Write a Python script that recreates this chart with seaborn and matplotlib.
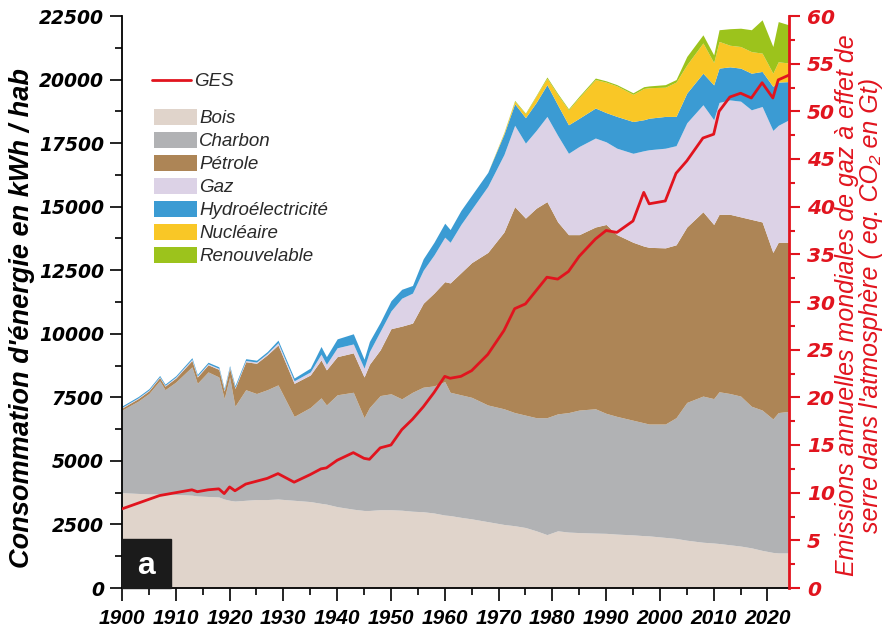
"""Consommation mondiale d'énergie par habitant et émissions de GES (1900-2023)."""

import matplotlib

matplotlib.use("Agg")
import matplotlib.pyplot as plt
import pandas as pd
import seaborn as sns
from matplotlib.patches import Rectangle
from matplotlib.ticker import MultipleLocator

# --- data (kWh / hab, stacked sources) ---
years = [1900, 1903, 1905, 1907, 1908, 1910, 1913, 1914, 1916, 1918, 1919, 1920,
         1921, 1923, 1925, 1927, 1929, 1932, 1935, 1937, 1938, 1940, 1943, 1945,
         1946, 1948, 1950, 1952, 1954, 1956, 1958, 1960, 1961, 1963, 1965, 1968,
         1971, 1973, 1975, 1977, 1979, 1981, 1983, 1985, 1988, 1990, 1992, 1995,
         1997, 1998, 2001, 2003, 2005, 2008, 2010, 2011, 2013, 2015, 2017, 2019,
         2021, 2022, 2024]

bois = [3750, 3720, 3700, 3700, 3700, 3680, 3650, 3620, 3600, 3580, 3500, 3450,
        3420, 3450, 3480, 3480, 3500, 3450, 3400, 3330, 3300, 3200, 3100, 3050,
        3050, 3080, 3080, 3060, 3020, 3000, 2950, 2870, 2850, 2780, 2720, 2610,
        2500, 2450, 2380, 2250, 2100, 2250, 2200, 2180, 2160, 2150, 2120, 2090,
        2060, 2050, 1990, 1950, 1880, 1800, 1770, 1750, 1700, 1650, 1580, 1480,
        1400, 1380, 1380]

charbon = [3250, 3630, 3950, 4450, 4100, 4420, 5050, 4430, 4900, 4720, 3950, 4850,
           3730, 4350, 4170, 4320, 4490, 3300, 3700, 4150, 3900, 4400, 4600, 3650,
           4050, 4490, 4560, 4380, 4680, 4900, 5000, 5250, 4850, 4820, 4780, 4590,
           4550, 4450, 4420, 4450, 4600, 4600, 4700, 4820, 4890, 4720, 4630, 4510,
           4440, 4400, 4460, 4750, 5420, 5750, 5680, 5970, 5950, 5900, 5570, 5520,
           5250, 5520, 5570]

petrole = [80, 100, 110, 130, 140, 160, 250, 250, 280, 300, 300, 350,
           700, 1100, 1190, 1370, 1570, 1300, 1280, 1490, 1380, 1500, 1550, 1600,
           1700, 1800, 2560, 2860, 2720, 3300, 3650, 3930, 4300, 4800, 5300, 6000,
           6950, 8100, 7750, 8240, 8500, 7550, 7000, 6900, 7150, 7430, 7150, 7000,
           6950, 6950, 6930, 6800, 6900, 7250, 6850, 6980, 7050, 7050, 7350, 7400,
           6550, 6700, 6650]

gaz = [30, 30, 30, 30, 30, 40, 50, 40, 40, 40, 40, 40,
       40, 50, 50, 60, 90, 100, 120, 230, 220, 350, 350, 350,
       500, 730, 700, 1100, 1180, 1300, 1500, 1750, 1600, 1900, 2100, 2600,
       3050, 3200, 2950, 3060, 3350, 3400, 3200, 3470, 3500, 3250, 3400, 3500,
       3750, 3840, 3920, 3900, 4100, 4210, 4120, 4400, 4500, 4550, 4310, 4540,
       4800, 4600, 4820]

hydro = [50, 50, 50, 50, 50, 50, 60, 60, 60, 60, 60, 60,
         70, 70, 70, 70, 100, 110, 150, 300, 300, 350, 400, 350,
         400, 350, 400, 350, 300, 450, 500, 550, 500, 550, 550, 550,
         800, 850, 1000, 1100, 1250, 1200, 1120, 1110, 1180, 1150, 1250, 1250,
         1220, 1240, 1250, 1150, 1170, 1240, 1370, 1350, 1300, 1300, 1440, 1380,
         1730, 1700, 1500]

nucleaire = [0, 0, 0, 0, 0, 0, 0, 0, 0, 0, 0, 0,
             0, 0, 0, 0, 0, 0, 0, 0, 0, 0, 0, 0,
             0, 0, 0, 0, 0, 0, 0, 0, 0, 0, 0, 0,
             50, 100, 150, 250, 250, 400, 590, 820, 1120, 1200, 1200, 1070,
             1230, 1200, 1150, 1350, 1110, 1190, 880, 1050, 850, 850, 850, 720,
             520, 800, 730]

renouvelable = [0, 0, 0, 0, 0, 0, 0, 0, 0, 0, 0, 0,
                0, 0, 0, 0, 0, 0, 0, 0, 0, 0, 0, 0,
                0, 0, 0, 0, 0, 0, 0, 0, 0, 0, 0, 0,
                20, 30, 30, 30, 50, 50, 40, 50, 60, 50, 50, 60,
                70, 70, 100, 100, 330, 320, 300, 460, 650, 720, 860, 1310,
                1050, 1580, 1500]

# GES emissions (Gt eq. CO2), right axis
ges = [8.3, 8.9, 9.3, 9.7, 9.8, 10.0, 10.3, 10.1, 10.3, 10.4, 9.9, 10.6,
       10.2, 10.9, 11.2, 11.5, 12.0, 11.1, 11.9, 12.5, 12.6, 13.4, 14.2, 13.6,
       13.5, 14.7, 15.0, 16.6, 17.7, 19.0, 20.5, 22.2, 22.0, 22.2, 22.8, 24.5,
       27.0, 29.3, 29.8, 31.2, 32.6, 32.4, 33.2, 34.8, 36.6, 37.5, 37.3, 38.5,
       41.5, 40.3, 40.6, 43.5, 44.8, 47.2, 47.6, 50.0, 51.5, 51.9, 51.4, 53.0,
       51.4, 53.3, 53.8]

sources = ["Bois", "Charbon", "Pétrole", "Gaz", "Hydroélectricité", "Nucléaire",
           "Renouvelable"]
colors = ["#e0d4cb", "#b1b2b4", "#ad8556", "#dcd2e6", "#3b9bd3", "#f9c726",
          "#9cc31c"]
RED = "#e1141e"

df = pd.DataFrame({"annee": years, "Bois": bois, "Charbon": charbon,
                   "Pétrole": petrole, "Gaz": gaz, "Hydroélectricité": hydro,
                   "Nucléaire": nucleaire, "Renouvelable": renouvelable,
                   "GES": ges})

sns.set_theme(style="ticks")
plt.rcParams["font.family"] = ["Liberation Sans", "DejaVu Sans"]

fig = plt.figure(figsize=(8.94, 6.29), dpi=100)
ax = fig.add_axes([122 / 894, 41 / 629, 667 / 894, 572 / 629])

ax.stackplot(df["annee"], [df[s] for s in sources], colors=colors,
             labels=sources, linewidth=0)
ax.set_xlim(1900, 2024)
ax.set_ylim(0, 22500)
ax.yaxis.set_major_locator(MultipleLocator(2500))
ax.yaxis.set_minor_locator(MultipleLocator(1250))
ax.xaxis.set_major_locator(MultipleLocator(10))
ax.xaxis.set_minor_locator(MultipleLocator(5))
ax.tick_params(which="major", direction="out", length=9, width=1.2,
               color="black", labelcolor="black")
ax.tick_params(which="minor", direction="out", length=5, width=1.2, color="black")
ax.tick_params(axis="y", pad=4)
ax.tick_params(axis="x", pad=6)
for lab in ax.get_yticklabels():
    lab.set_fontproperties({"family": "DejaVu Sans", "weight": "bold",
                            "style": "oblique", "size": 13.5})
for lab in ax.get_xticklabels():
    lab.set_fontproperties({"family": "Liberation Sans", "weight": "bold",
                            "style": "italic", "size": 15})
for side in ["top", "right"]:
    ax.spines[side].set_visible(False)
for side in ["left", "bottom"]:
    ax.spines[side].set_color("black")
    ax.spines[side].set_linewidth(1.3)
ax.grid(False)

# "a" panel tag
ax.add_patch(Rectangle((0, 0), 0.073, 0.086, transform=ax.transAxes,
                       color="#1b1b1b", zorder=5, clip_on=False))
ax.text(0.0365, 0.038, "a", transform=ax.transAxes, color="white",
        fontsize=23, fontweight="bold", ha="center", va="center", zorder=6)

# GES on twin axis
ax2 = ax.twinx()
sns.lineplot(data=df, x="annee", y="GES", ax=ax2, color=RED, linewidth=2,
             label="GES")
ax2.set_ylim(0, 60)
ax2.set_xlim(1900, 2024)
ax2.set_ylabel("")
ax2.set_xlabel("")
ax2.yaxis.set_major_locator(MultipleLocator(5))
ax2.yaxis.set_minor_locator(MultipleLocator(2.5))
ax2.tick_params(which="major", direction="out", length=8, width=1.5, color=RED,
                pad=5)
ax2.tick_params(which="minor", direction="out", length=4, width=1.5, color=RED)
for lab in ax2.get_yticklabels():
    lab.set_fontproperties({"family": "DejaVu Sans", "weight": "bold",
                            "style": "oblique", "size": 14.5})
    lab.set_color(RED)
for side in ["top", "left", "bottom"]:
    ax2.spines[side].set_visible(False)
ax2.spines["right"].set_color(RED)
ax2.spines["right"].set_linewidth(2)

ax.set_xlabel("")
ax.set_ylabel("")

# legends
leg_font = {"family": "Liberation Sans", "style": "italic", "size": 13.5}
leg1 = ax2.legend(loc="upper left", bbox_to_anchor=(0.045, 0.9), frameon=False,
                  prop=leg_font, handlelength=2.1, handletextpad=0.12,
                  borderpad=0, borderaxespad=0)
for t in leg1.get_texts():
    t.set_color("#2a2a2a")
ax2.add_artist(leg1)
handles, labels = ax.get_legend_handles_labels()
leg2 = ax2.legend(handles, labels, loc="upper left",
                  bbox_to_anchor=(0.048, 0.838), frameon=False, prop=leg_font,
                  handlelength=2.3, handleheight=0.95, handletextpad=0.12,
                  labelspacing=0.24, borderpad=0, borderaxespad=0)
for t in leg2.get_texts():
    t.set_color("#2a2a2a")

# axis titles
fig.text(22 / 894, 1 - 318 / 629, "Consommation d'énergie en kWh / hab",
         rotation=90, ha="center", va="center", fontsize=19.5,
         fontweight="bold", fontstyle="italic", color="black")
fig.text(859 / 894, 1 - 305 / 629,
         "Emissions annuelles mondiales de gaz à effet de\n"
         "serre dans l'atmosphère ( eq. CO₂ en Gt)",
         rotation=90, ha="center", va="center", fontsize=18,
         fontstyle="italic", color=RED, linespacing=1.0,
         multialignment="center")

fig.savefig("out.png", dpi=100)
